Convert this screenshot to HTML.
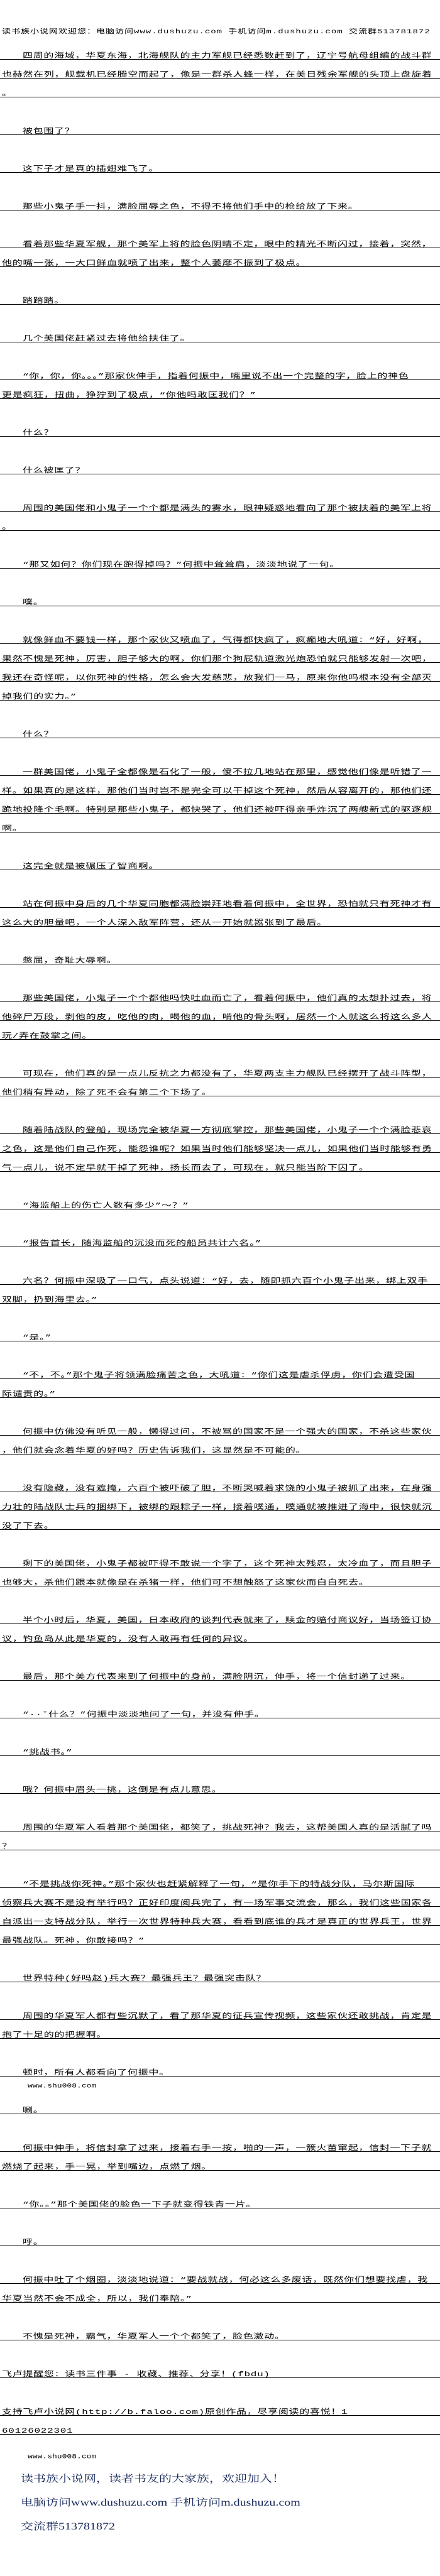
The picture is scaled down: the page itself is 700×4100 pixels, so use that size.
<!DOCTYPE html>
<html><head><meta charset="utf-8"><style>
html,body{margin:0;padding:0;background:#fff;}
body{width:700px;height:4100px;position:relative;overflow:hidden;}
.l{position:absolute;left:0;width:700px;height:0;border-top:1px solid #000;}
.l span{position:absolute;bottom:0px;white-space:nowrap;font-family:"Liberation Mono","Noto Sans CJK SC",monospace;font-size:16px;line-height:16px;letter-spacing:0.7px;color:#000;transform:scaleY(0.7);transform-origin:left bottom;}
.i span{left:36px;}
.n span{left:3px;}
.hd{position:absolute;left:0;top:45px;width:700px;height:12px;overflow:hidden;}
.hd span{position:absolute;left:3px;bottom:1px;white-space:nowrap;font-family:"Liberation Mono","Noto Sans CJK SC",monospace;font-size:14px;line-height:14px;letter-spacing:1px;transform:scaleY(0.75);transform-origin:left bottom;}
.w{position:absolute;left:44px;white-space:nowrap;font-family:"Liberation Mono",monospace;font-size:13px;line-height:13px;transform:scaleY(0.8);transform-origin:left bottom;}
.f{position:absolute;left:33px;white-space:nowrap;font-family:"Liberation Serif","Noto Serif CJK SC",serif;font-size:20px;line-height:20px;color:#15275a;transform:scaleY(0.78);transform-origin:left bottom;}
</style></head><body>
<div class="hd"><span>读书族小说网欢迎您：电脑访问www.dushuzu.com 手机访问m.dushuzu.com 交流群513781872</span></div>

<div class="l i" style="top:94px"><span>四周的海域，华夏东海，北海舰队的主力军舰已经悉数赶到了，辽宁号航母组编的战斗群</span></div>
<div class="l n" style="top:124px"><span>也赫然在列，舰载机已经腾空而起了，像是一群杀人蜂一样，在美日残余军舰的头顶上盘旋着</span></div>
<div class="l n" style="top:154px"><span>。</span></div>
<div class="l i" style="top:214px"><span>被包围了？</span></div>
<div class="l i" style="top:274px"><span>这下子才是真的插翅难飞了。</span></div>
<div class="l i" style="top:334px"><span>那些小鬼子手一抖，满脸屈辱之色，不得不将他们手中的枪给放了下来。</span></div>
<div class="l i" style="top:394px"><span>看着那些华夏军舰，那个美军上将的脸色阴晴不定，眼中的精光不断闪过，接着，突然，</span></div>
<div class="l n" style="top:424px"><span>他的嘴一张，一大口鲜血就喷了出来，整个人萎靡不振到了极点。</span></div>
<div class="l i" style="top:484px"><span>踏踏踏。</span></div>
<div class="l i" style="top:544px"><span>几个美国佬赶紧过去将他给扶住了。</span></div>
<div class="l i" style="top:604px"><span>“你，你，你。。。”那家伙伸手，指着何振中，嘴里说不出一个完整的字，脸上的神色</span></div>
<div class="l n" style="top:634px"><span>更是疯狂，扭曲，狰狞到了极点，“你他吗敢匡我们？”</span></div>
<div class="l i" style="top:694px"><span>什么？</span></div>
<div class="l i" style="top:754px"><span>什么被匡了？</span></div>
<div class="l i" style="top:814px"><span>周围的美国佬和小鬼子一个个都是满头的雾水，眼神疑惑地看向了那个被扶着的美军上将</span></div>
<div class="l n" style="top:844px"><span>。</span></div>
<div class="l i" style="top:904px"><span>“那又如何？你们现在跑得掉吗？”何振中耸耸肩，淡淡地说了一句。</span></div>
<div class="l i" style="top:964px"><span>噗。</span></div>
<div class="l i" style="top:1024px"><span>就像鲜血不要钱一样，那个家伙又喷血了，气得都快疯了，疯癫地大吼道：“好，好啊，</span></div>
<div class="l n" style="top:1054px"><span>果然不愧是死神，厉害，胆子够大的啊，你们那个狗屁轨道激光炮恐怕就只能够发射一次吧，</span></div>
<div class="l n" style="top:1084px"><span>我还在奇怪呢，以你死神的性格，怎么会大发慈悲，放我们一马，原来你他吗根本没有全部灭</span></div>
<div class="l n" style="top:1114px"><span>掉我们的实力。”</span></div>
<div class="l i" style="top:1174px"><span>什么？</span></div>
<div class="l i" style="top:1234px"><span>一群美国佬，小鬼子全都像是石化了一般，傻不拉几地站在那里，感觉他们像是听错了一</span></div>
<div class="l n" style="top:1264px"><span>样。如果真的是这样，那他们当时岂不是完全可以干掉这个死神，然后从容离开的，那他们还</span></div>
<div class="l n" style="top:1294px"><span>跪地投降个毛啊。特别是那些小鬼子，都快哭了，他们还被吓得亲手炸沉了两艘新式的驱逐舰</span></div>
<div class="l n" style="top:1324px"><span>啊。</span></div>
<div class="l i" style="top:1384px"><span>这完全就是被碾压了智商啊。</span></div>
<div class="l i" style="top:1444px"><span>站在何振中身后的几个华夏同胞都满脸崇拜地看着何振中，全世界，恐怕就只有死神才有</span></div>
<div class="l n" style="top:1474px"><span>这么大的胆量吧，一个人深入敌军阵营，还从一开始就嚣张到了最后。</span></div>
<div class="l i" style="top:1534px"><span>憋屈，奇耻大辱啊。</span></div>
<div class="l i" style="top:1594px"><span>那些美国佬，小鬼子一个个都他吗快吐血而亡了，看着何振中，他们真的太想扑过去，将</span></div>
<div class="l n" style="top:1624px"><span>他碎尸万段，剥他的皮，吃他的肉，喝他的血，啃他的骨头啊，居然一个人就这么将这么多人</span></div>
<div class="l n" style="top:1654px"><span>玩/弄在鼓掌之间。</span></div>
<div class="l i" style="top:1714px"><span>可现在，他们真的是一点儿反抗之力都没有了，华夏两支主力舰队已经摆开了战斗阵型，</span></div>
<div class="l n" style="top:1744px"><span>他们稍有异动，除了死不会有第二个下场了。</span></div>
<div class="l i" style="top:1804px"><span>随着陆战队的登船，现场完全被华夏一方彻底掌控，那些美国佬，小鬼子一个个满脸悲哀</span></div>
<div class="l n" style="top:1834px"><span>之色，这是他们自己作死，能怨谁呢？如果当时他们能够坚决一点儿，如果他们当时能够有勇</span></div>
<div class="l n" style="top:1864px"><span>气一点儿，说不定早就干掉了死神，扬长而去了，可现在，就只能当阶下囚了。</span></div>
<div class="l i" style="top:1924px"><span>“海监船上的伤亡人数有多少”～？”</span></div>
<div class="l i" style="top:1984px"><span>“报告首长，随海监船的沉没而死的船员共计六名。”</span></div>
<div class="l i" style="top:2044px"><span>六名？何振中深吸了一口气，点头说道：“好，去，随即抓六百个小鬼子出来，绑上双手</span></div>
<div class="l n" style="top:2074px"><span>双脚，扔到海里去。”</span></div>
<div class="l i" style="top:2134px"><span>“是。”</span></div>
<div class="l i" style="top:2194px"><span>“不，不。”那个鬼子将领满脸痛苦之色，大吼道：“你们这是虐杀俘虏，你们会遭受国</span></div>
<div class="l n" style="top:2224px"><span>际谴责的。”</span></div>
<div class="l i" style="top:2284px"><span>何振中仿佛没有听见一般，懒得过问，不被骂的国家不是一个强大的国家，不杀这些家伙</span></div>
<div class="l n" style="top:2314px"><span>，他们就会念着华夏的好吗？历史告诉我们，这显然是不可能的。</span></div>
<div class="l i" style="top:2374px"><span>没有隐藏，没有遮掩，六百个被吓破了胆，不断哭喊着求饶的小鬼子被抓了出来，在身强</span></div>
<div class="l n" style="top:2404px"><span>力壮的陆战队士兵的捆绑下，被绑的跟粽子一样，接着噗通，噗通就被推进了海中，很快就沉</span></div>
<div class="l n" style="top:2434px"><span>没了下去。</span></div>
<div class="l i" style="top:2494px"><span>剩下的美国佬，小鬼子都被吓得不敢说一个字了，这个死神太残忍，太冷血了，而且胆子</span></div>
<div class="l n" style="top:2524px"><span>也够大，杀他们跟本就像是在杀猪一样，他们可不想触怒了这家伙而白白死去。</span></div>
<div class="l i" style="top:2584px"><span>半个小时后，华夏，美国，日本政府的谈判代表就来了，赎金的赔付商议好，当场签订协</span></div>
<div class="l n" style="top:2614px"><span>议，钓鱼岛从此是华夏的，没有人敢再有任何的异议。</span></div>
<div class="l i" style="top:2674px"><span>最后，那个美方代表来到了何振中的身前，满脸阴沉，伸手，将一个信封递了过来。</span></div>
<div class="l i" style="top:2734px"><span>“··ˇ什么？”何振中淡淡地问了一句，并没有伸手。</span></div>
<div class="l i" style="top:2794px"><span>“挑战书。”</span></div>
<div class="l i" style="top:2854px"><span>哦？何振中眉头一挑，这倒是有点儿意思。</span></div>
<div class="l i" style="top:2914px"><span>周围的华夏军人看着那个美国佬，都笑了，挑战死神？我去，这帮美国人真的是活腻了吗</span></div>
<div class="l n" style="top:2944px"><span>？</span></div>
<div class="l i" style="top:3004px"><span>“不是挑战你死神。”那个家伙也赶紧解释了一句，“是你手下的特战分队，马尔斯国际</span></div>
<div class="l n" style="top:3034px"><span>侦察兵大赛不是没有举行吗？正好印度阅兵完了，有一场军事交流会，那么，我们这些国家各</span></div>
<div class="l n" style="top:3064px"><span>自派出一支特战分队，举行一次世界特种兵大赛，看看到底谁的兵才是真正的世界兵王，世界</span></div>
<div class="l n" style="top:3094px"><span>最强战队。死神，你敢接吗？”</span></div>
<div class="l i" style="top:3154px"><span>世界特种(好吗赵)兵大赛？最强兵王？最强突击队？</span></div>
<div class="l i" style="top:3214px"><span>周围的华夏军人都有些沉默了，看了那华夏的征兵宣传视频，这些家伙还敢挑战，肯定是</span></div>
<div class="l n" style="top:3244px"><span>抱了十足的的把握啊。</span></div>
<div class="l i" style="top:3304px"><span>顿时，所有人都看向了何振中。</span></div>
<div class="w" style="top:3312px">www.shu008.com</div>
<div class="l i" style="top:3364px"><span>唰。</span></div>
<div class="l i" style="top:3424px"><span>何振中伸手，将信封拿了过来，接着右手一按，啪的一声，一簇火苗窜起，信封一下子就</span></div>
<div class="l n" style="top:3454px"><span>燃烧了起来，手一晃，举到嘴边，点燃了烟。</span></div>
<div class="l i" style="top:3514px"><span>“你。。”那个美国佬的脸色一下子就变得铁青一片。</span></div>
<div class="l i" style="top:3574px"><span>呼。</span></div>
<div class="l i" style="top:3634px"><span>何振中吐了个烟圈，淡淡地说道：“要战就战，何必这么多废话，既然你们想要找虐，我</span></div>
<div class="l n" style="top:3664px"><span>华夏当然不会不成全，所以，我们奉陪。”</span></div>
<div class="l i" style="top:3724px"><span>不愧是死神，霸气，华夏军人一个个都笑了，脸色激动。</span></div>
<div class="l n" style="top:3784px"><span>飞卢提醒您：读书三件事 - 收藏、推荐、分享！(fbdu)</span></div>
<div class="l n" style="top:3844px"><span>支持飞卢小说网(http://b.faloo.com)原创作品，尽享阅读的喜悦！1</span></div>
<div class="l n" style="top:3874px"><span>60126022301</span></div>
<div class="w" style="top:3902px">www.shu008.com</div>
<div class="f" style="top:3933px">读书族小说网，读者书友的大家族，欢迎加入！</div>
<div class="f" style="top:3971px">电脑访问www.dushuzu.com 手机访问m.dushuzu.com</div>
<div class="f" style="top:4009px">交流群513781872</div>
</body></html>
